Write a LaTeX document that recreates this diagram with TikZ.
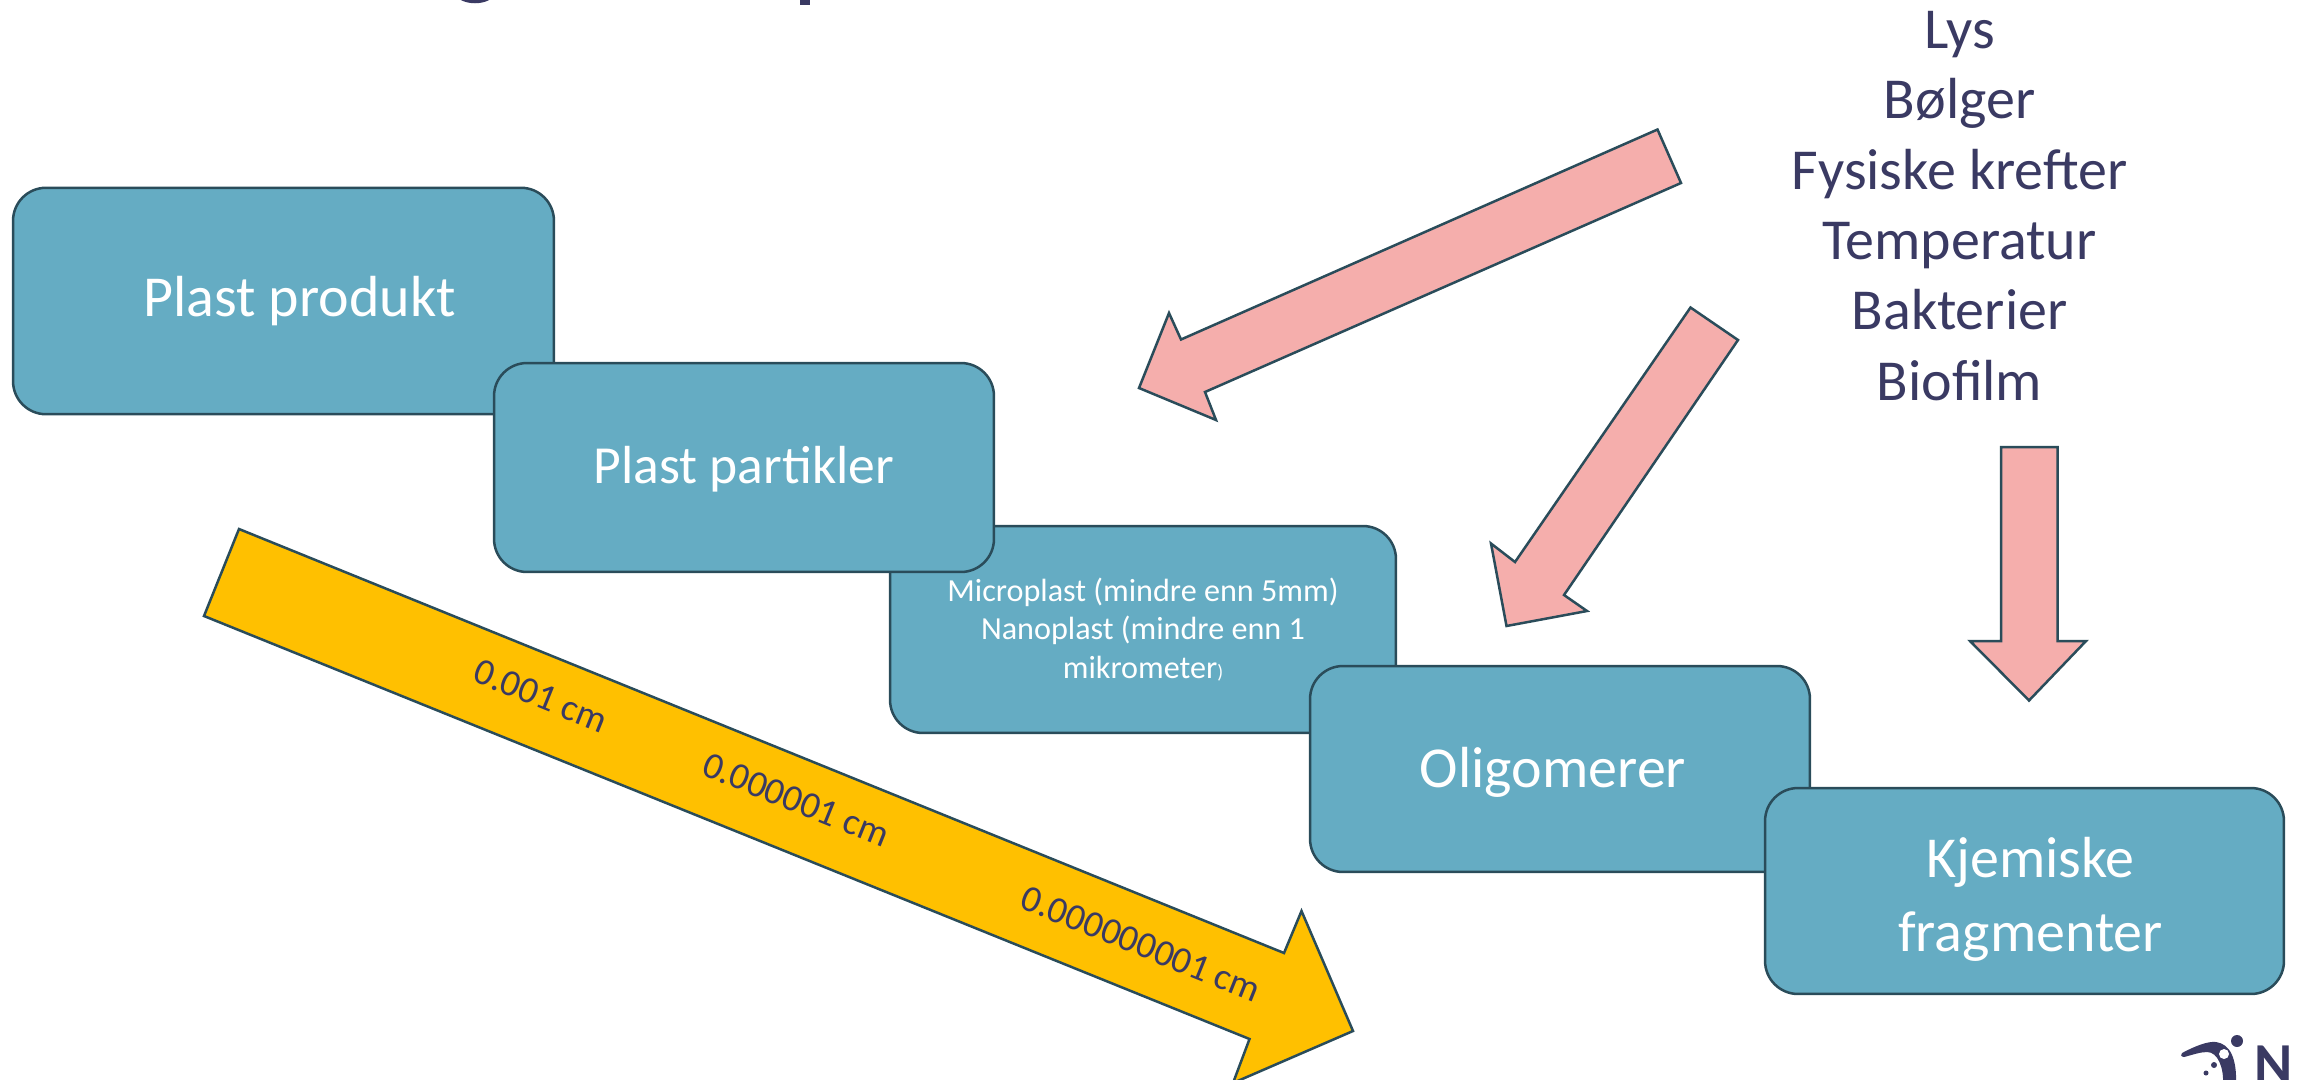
\documentclass[tikz,border=0pt]{standalone}
\usepackage{fontspec}
\setmainfont{Carlito}
\definecolor{boxfill}{HTML}{65ACC3}
\definecolor{boxline}{HTML}{2A4C5A}
\definecolor{arrowpink}{HTML}{F5AEAC}
\definecolor{arrowyellow}{HTML}{FFC000}
\definecolor{navytext}{HTML}{3A3A63}
\tikzset{
        stagebox/.style={draw=boxline, fill=boxfill, line width=0.05cm, rounded corners=0.66cm, inner sep=0pt, align=center, text=white, font=\fontsize{33}{42}\selectfont},
        blockpink/.style={fill=arrowpink, draw=boxline, line width=0.05cm, line join=miter},
        blockyellow/.style={fill=arrowyellow, draw=boxline, line width=0.05cm, line join=miter},
        sizelabel/.style={text=navytext, rotate=-22, inner sep=0pt, font=\fontsize{21.4}{26}\selectfont}
}
\begin{document}
\begin{tikzpicture}[x=0.02cm, y=-0.02cm]
        \clip (0,0) rectangle (2298,1079);

        \fill[navytext] (454,-8) .. controls (458,7) and (492,7) .. (496,-8) -- cycle;
        \fill[navytext] (800,-2) rectangle (810,5);

        \node[stagebox, minimum width=10.82cm, minimum height=4.53cm] (produkt) at (283.5,301) {\hspace*{0.64cm}Plast produkt};
        \node[stagebox, minimum width=10.12cm, minimum height=4.14cm, font=\fontsize{18.3}{22}\selectfont] (micro) at (1143,629.5) {Microplast (mindre enn 5mm)\\Nanoplast (mindre enn 1\\mikrometer{\fontsize{11}{11}\selectfont)}};
        \node[stagebox, minimum width=10cm, minimum height=4.18cm, font=\fontsize{30.5}{38}\selectfont, text depth=0.12cm] (partikler) at (744,467.5) {Plast partikler};
        \node[stagebox, minimum width=10cm, minimum height=4.12cm, text depth=0.08cm] (oligomerer) at (1560,769) {\hspace*{-0.28cm}Oligomerer};
        \node[stagebox, minimum width=10.38cm, minimum height=4.12cm] (fragmenter) at (2024.5,891) {\rule{0pt}{1.13cm}\hspace*{0.24cm}Kjemiske\\\hspace*{0.24cm}fragmenter};

        \filldraw[blockpink] (1657.5,129.5) -- (1681,183) -- (1205,392) -- (1216,420) -- (1139,388) -- (1169,313) -- (1181,339.5) -- cycle;
        \filldraw[blockpink] (1690.5,307.5) -- (1738,340) -- (1564,595) -- (1587,611) -- (1506.5,626) -- (1491,543.5) -- (1515,562) -- cycle;
        \filldraw[blockpink] (2001,447) -- (2057.5,447) -- (2057.5,641) -- (2086,641) -- (2029,700.5) -- (1970,641) -- (2001,641) -- cycle;

        \filldraw[blockyellow] (239,529) -- (1284,953) -- (1301.5,911) -- (1353,1031) -- (1233,1083) -- (1249.5,1039) -- (204,616) -- cycle;
        \node[sizelabel] (cmthree) at (541,696) {0.001 cm};
        \node[sizelabel] (cmsix) at (796,800) {0.000001 cm};
        \node[sizelabel] (cmnine) at (1141,944) {0.000000001 cm};

        \node[text=navytext, align=center, inner sep=0pt, font=\fontsize{33}{40.05}\selectfont] (causes) at (1959.5,206) {Lys\\Bølger\\Fysiske krefter\\Temperatur\\Bakterier\\Biofilm};

        \fill[navytext] (2182,1053) .. controls (2195,1046) and (2208,1041) .. (2216,1042) .. controls (2230,1044) and (2237,1058) .. (2236,1085) -- (2223,1085) .. controls (2224,1068) and (2218,1052) .. (2207,1052) .. controls (2200,1052) and (2192,1055) .. (2184,1057) .. controls (2181,1057) and (2180,1054) .. (2182,1053) -- cycle;
        \fill[white] (2224,1054) circle (5);
        \fill[navytext] (2237,1041) circle (6);
        \fill[navytext] (2214,1065) circle (3);
        \fill[navytext] (2206,1073) circle (2.5);
        \node[text=navytext, anchor=north west, inner sep=0pt, font=\fontsize{33}{40}\selectfont\bfseries] (logoN) at (2254,1046) {N};
\end{tikzpicture}
\end{document}
